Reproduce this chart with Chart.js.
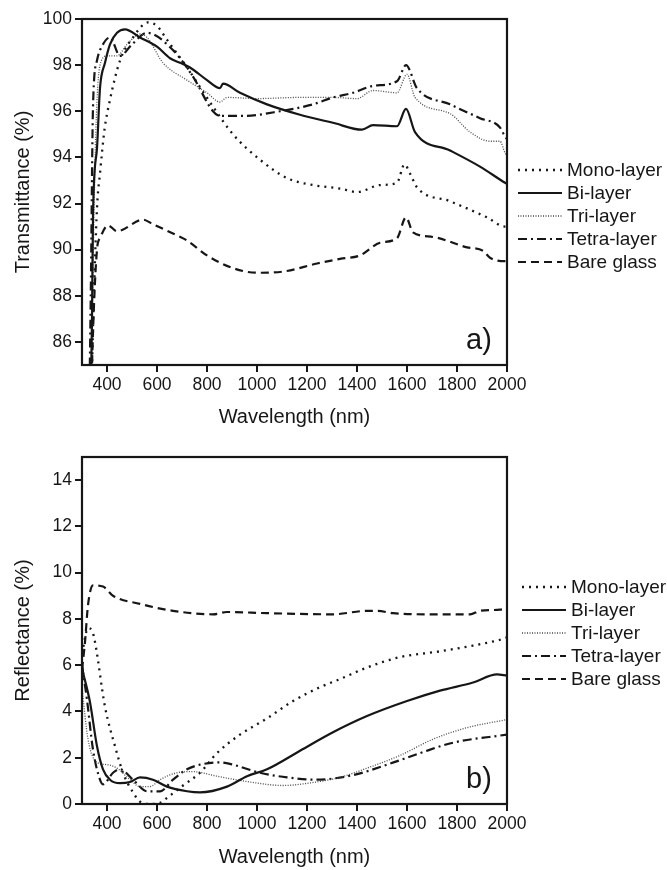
<!DOCTYPE html>
<html>
<head>
<meta charset="utf-8">
<script src="https://cdn.jsdelivr.net/npm/chart.js@4/dist/chart.umd.min.js"></script>
<style>
  html, body { margin: 0; padding: 0; background: #ffffff; }
  #wrapT { position: absolute; left: 0; top: 0; width: 667px; height: 437px; }
  #wrapR { position: absolute; left: 0; top: 437px; width: 667px; height: 433px; }
</style>
</head>
<body>
<div id="wrapT"><canvas id="chartT" width="667" height="437"></canvas></div>
<div id="wrapR"><canvas id="chartR" width="667" height="433"></canvas></div>
<script>
// ---------- data (wavelength nm, value %) ----------
const seriesNames = ['Mono-layer', 'Bi-layer', 'Tri-layer', 'Tetra-layer', 'Bare glass'];

const transMono = [[330,80],[345,87],[360,91.8],[372,93.3],[390,95.2],[412,96.5],[452,98.2],[504,99.2],[564,99.85],[600,99.7],[640,99.1],[720,97.9],[824,96.2],[904,95.0],[1012,93.9],[1120,93.1],[1224,92.8],[1332,92.65],[1400,92.5],[1492,92.8],[1560,92.9],[1590,93.7],[1612,93.3],[1640,92.7],[1772,92.1],[1920,91.4],[1992,91.0],[2000,91.0]];
const transBi = [[330,80],[340,87],[344,91.5],[360,94.4],[372,97.0],[392,98.1],[412,98.9],[440,99.4],[472,99.55],[532,99.2],[600,98.8],[652,98.3],[692,98.1],[732,97.9],[800,97.35],[852,97.0],[864,97.2],[932,96.8],[1040,96.3],[1172,95.85],[1304,95.5],[1420,95.2],[1464,95.4],[1560,95.35],[1596,96.1],[1632,95.1],[1772,94.3],[1892,93.6],[1992,92.9],[2000,92.85]];
const transTri = [[330,80],[342,88],[355,95],[372,98.0],[400,98.4],[440,98.4],[480,98.9],[532,99.35],[560,99.2],[624,98.1],[720,97.35],[800,96.8],[852,96.4],[880,96.6],[1000,96.55],[1172,96.6],[1300,96.6],[1400,96.55],[1464,96.9],[1560,96.8],[1600,97.6],[1632,96.6],[1772,95.9],[1852,95.1],[1932,94.7],[1972,94.7],[1992,94.2],[2000,94.1]];
const transTetra = [[325,80],[335,88],[344,96.2],[360,98.2],[384,98.9],[412,99.2],[452,98.4],[500,98.9],[560,99.4],[664,98.65],[744,97.5],[824,96.0],[852,95.8],[944,95.8],[1092,96.0],[1224,96.3],[1304,96.6],[1384,96.8],[1464,97.1],[1560,97.3],[1596,98.0],[1640,97.0],[1772,96.3],[1892,95.7],[1972,95.3],[1992,94.9],[2000,94.8]];
const transBare = [[330,80],[340,85],[360,90.0],[372,90.5],[404,91.05],[440,90.8],[544,91.3],[584,91.1],[664,90.7],[720,90.4],[800,89.75],[904,89.2],[1000,89.0],[1104,89.05],[1240,89.4],[1332,89.6],[1412,89.75],[1492,90.3],[1560,90.5],[1596,91.4],[1624,90.75],[1704,90.55],[1840,90.1],[1904,89.95],[1932,89.65],[1992,89.5],[2000,89.5]];

const reflMono = [[300,6.5],[324,7.6],[340,7.5],[352,7.0],[392,4.2],[432,2.5],[464,1.35],[504,0.5],[532,0.1],[572,0.0],[612,0.05],[644,0.3],[704,0.8],[772,1.35],[840,2.2],[932,3.0],[1040,3.7],[1144,4.45],[1252,5.05],[1332,5.4],[1440,5.9],[1572,6.35],[1732,6.6],[1864,6.85],[1972,7.1],[2000,7.2]];
const reflBi = [[300,5.9],[304,5.7],[332,4.4],[360,2.5],[384,1.5],[412,1.05],[452,0.9],[492,0.95],[532,1.15],[584,1.05],[640,0.75],[720,0.55],[772,0.5],[880,0.75],[960,1.2],[1040,1.5],[1172,2.3],[1304,3.1],[1440,3.8],[1600,4.45],[1732,4.9],[1864,5.25],[1960,5.6],[2000,5.55]];
const reflTri = [[300,5.0],[324,2.8],[360,1.8],[400,1.7],[440,1.55],[492,1.05],[532,0.75],[572,0.75],[612,1.05],[680,1.35],[744,1.4],[840,1.2],[972,0.95],[1104,0.8],[1236,0.95],[1332,1.15],[1440,1.55],[1572,2.1],[1704,2.8],[1840,3.3],[2000,3.65]];
const reflTetra = [[300,6.0],[320,4.5],[344,2.35],[372,1.05],[384,0.85],[424,1.35],[452,1.5],[504,1.05],[560,0.55],[612,0.55],[664,1.05],[720,1.5],[772,1.7],[852,1.8],[904,1.7],[1012,1.35],[1120,1.15],[1236,1.05],[1384,1.25],[1520,1.7],[1652,2.2],[1784,2.65],[2000,3.0]];
const reflBare = [[300,5.8],[312,7.0],[324,8.6],[344,9.45],[384,9.4],[424,9.0],[532,8.65],[664,8.35],[824,8.2],[880,8.3],[1040,8.25],[1304,8.2],[1440,8.35],[1480,8.35],[1544,8.25],[1704,8.2],[1852,8.2],[1892,8.35],[1972,8.4],[2000,8.45]];

const xTicks = [400, 600, 800, 1000, 1200, 1400, 1600, 1800, 2000];
const yTicksT = [86, 88, 90, 92, 94, 96, 98, 100];
const yTicksR = [0, 2, 4, 6, 8, 10, 12, 14];

// ---------- styles ----------
const FONT = "'Liberation Sans', Arial, Helvetica, sans-serif";
const INK = '#161616';
const styles = [
  { borderColor: INK, borderWidth: 2.3, borderDash: [2, 5] },          // Mono
  { borderColor: INK, borderWidth: 2.2, borderDash: [] },               // Bi
  { borderColor: '#4a4a4a', borderWidth: 1.3, borderDash: [1, 1.5] },   // Tri
  { borderColor: INK, borderWidth: 2.2, borderDash: [9, 4, 2, 4] },     // Tetra
  { borderColor: INK, borderWidth: 2.2, borderDash: [8, 5] }            // Bare
];

function makeDatasets(list) {
  return list.map((arr, i) => Object.assign({
    label: seriesNames[i],
    data: arr.map(p => ({ x: p[0], y: p[1] })),
    pointRadius: 0,
    fill: false,
    cubicInterpolationMode: 'monotone',
    borderCapStyle: 'butt'
  }, styles[i]));
}

function framePlugin(panelLabel, legendLeft, legendTop) {
  return {
    id: 'frame_' + panelLabel,
    afterDraw(chart) {
      const ctx = chart.ctx;
      const a = chart.chartArea;
      ctx.save();
      ctx.strokeStyle = INK;
      ctx.lineWidth = 2.2;
      ctx.setLineDash([]);
      ctx.strokeRect(a.left, a.top, a.right - a.left, a.bottom - a.top);
      // panel label
      ctx.fillStyle = INK;
      ctx.font = '29px ' + FONT;
      ctx.textAlign = 'center';
      ctx.textBaseline = 'middle';
      ctx.fillText(panelLabel, a.right - 28, a.bottom - 24);
      // legend
      ctx.font = '19px ' + FONT;
      ctx.textAlign = 'left';
      chart.data.datasets.forEach((ds, i) => {
        const y = legendTop + i * 23;
        ctx.strokeStyle = ds.borderColor;
        ctx.lineWidth = ds.borderWidth;
        ctx.setLineDash(ds.borderDash || []);
        ctx.beginPath();
        ctx.moveTo(legendLeft, y);
        ctx.lineTo(legendLeft + 44, y);
        ctx.stroke();
        ctx.setLineDash([]);
        ctx.fillStyle = INK;
        ctx.fillText(ds.label, legendLeft + 49, y + 1);
      });
      ctx.restore();
    }
  };
}

function makeChart(canvasId, datasets, yMin, yMax, yTicks, yTitle, padTop, xAxisHeight, xTitlePad, label, legLeft, legTop) {
  return new Chart(document.getElementById(canvasId), {
    type: 'line',
    data: { datasets: datasets },
    options: {
      responsive: false,
      animation: false,
      devicePixelRatio: 1,
      layout: { padding: { top: padTop, right: 160, bottom: 0, left: 0 } },
      plugins: { legend: { display: false }, tooltip: { enabled: false } },
      scales: {
        x: {
          type: 'linear',
          min: 300, max: 2000,
          afterBuildTicks: s => { s.ticks = xTicks.map(v => ({ value: v })); },
          afterFit: s => { s.height = xAxisHeight; },
          grid: { display: true, drawOnChartArea: false, drawTicks: true, tickLength: 7, color: INK, lineWidth: 2 },
          border: { display: true, color: INK, width: 2 },
          ticks: { color: INK, font: { family: FONT, size: 17.5 }, padding: 3, maxRotation: 0, autoSkip: false, callback: v => String(v) },
          title: { display: true, text: 'Wavelength (nm)', color: INK, font: { family: FONT, size: 20 }, padding: { top: 0, bottom: xTitlePad } }
        },
        y: {
          type: 'linear',
          min: yMin, max: yMax,
          afterBuildTicks: s => { s.ticks = yTicks.map(v => ({ value: v })); },
          afterFit: s => { s.width = 82; },
          grid: { display: true, drawOnChartArea: false, drawTicks: true, tickLength: 7, color: INK, lineWidth: 2 },
          border: { display: true, color: INK, width: 2 },
          ticks: { color: INK, font: { family: FONT, size: 17.5 }, padding: 3, autoSkip: false, callback: v => String(v) },
          title: { display: true, text: yTitle, color: INK, font: { family: FONT, size: 20 }, padding: { top: 11, bottom: 0 } }
        }
      }
    },
    plugins: [framePlugin(label, legLeft, legTop)]
  });
}

makeChart('chartT', makeDatasets([transMono, transBi, transTri, transTetra, transBare]),
  85, 100, yTicksT, 'Transmittance (%)', 19, 72, 7.6, 'a)', 518, 170);
makeChart('chartR', makeDatasets([reflMono, reflBi, reflTri, reflTetra, reflBare]),
  0, 15, yTicksR, 'Reflectance (%)', 20, 66, 0.6, 'b)', 522, 150);
</script>
</body>
</html>
